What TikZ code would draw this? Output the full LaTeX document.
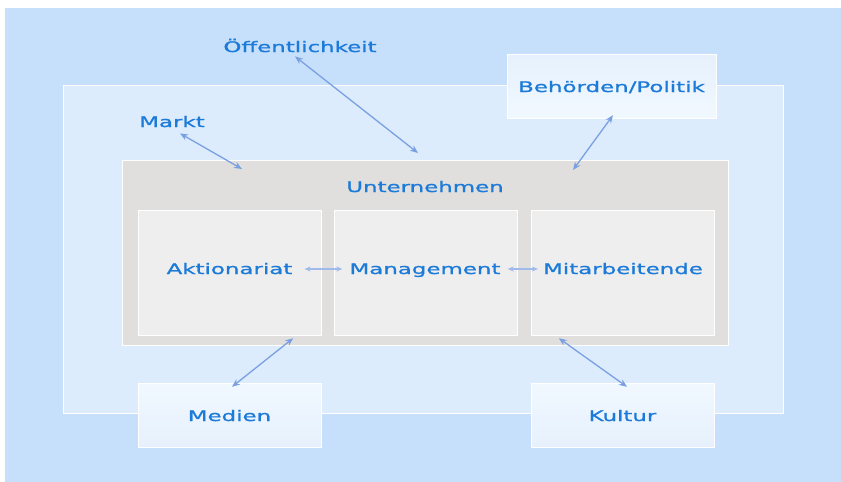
\documentclass[tikz,border=0pt]{standalone}
\usepackage{fontspec}
\usetikzlibrary{arrows.meta}
\newfontfamily\lab[FakeStretch=1.58,FakeBold=1.2]{DejaVu Sans}
\definecolor{bgblue}{RGB}{198,224,252}
\definecolor{outerblue}{RGB}{220,236,252}
\definecolor{untgray}{RGB}{224,223,221}
\definecolor{boxgray}{RGB}{238,238,238}
\definecolor{txtblue}{RGB}{28,122,216}
\definecolor{arrblue}{RGB}{122,160,226}
\definecolor{arrlight}{RGB}{160,186,236}
\definecolor{paleA}{RGB}{241,248,255}
\definecolor{paleB}{RGB}{230,241,253}
\begin{document}
\begin{tikzpicture}[x=1pt,y=-1pt,
  frame/.style={draw=white,line width=1pt,inner sep=0pt,outer sep=0pt},
  lbl/.style={text=txtblue,font=\lab\fontsize{14.5}{16}\selectfont,inner sep=0pt,anchor=base},
  arr/.style={draw=arrblue,line width=1.3pt,{Stealth[length=8pt,width=6.5pt]}-{Stealth[length=8pt,width=6.5pt]}},
  arrL/.style={draw=arrlight,line width=1.1pt,{Stealth[length=6pt,width=5pt]}-{Stealth[length=6pt,width=5pt]}},
  pale/.style={frame,top color=paleA,bottom color=paleB},
  paleU/.style={frame,top color=paleB,bottom color=paleA}]
\useasboundingbox (0,0) rectangle (841,482);
\fill[white] (0,0) rectangle (841,482);
% background
\fill[bgblue] (5,8) rectangle (841,482);
% outer environment
\path[frame,fill=outerblue] (63,85) rectangle (783,413);
% Unternehmen box
\path[frame,fill=untgray] (122,160) rectangle (728,345);
\node[frame,minimum width=606pt,minimum height=185pt,anchor=north west] (unt) at (122,160) {};
% inner boxes
\path[frame,fill=boxgray] (138,210) rectangle (321,335);
\path[frame,fill=boxgray] (334,210) rectangle (517,335);
\path[frame,fill=boxgray] (531,210) rectangle (714,335);
\node[minimum width=183pt,minimum height=125pt,inner sep=0pt] (akt) at (229.5,272.5) {};
\node[minimum width=183pt,minimum height=125pt,inner sep=0pt] (man) at (425.5,272.5) {};
\node[minimum width=183pt,minimum height=125pt,inner sep=0pt] (mit) at (622.5,272.5) {};
% outside boxes
\path[paleU] (507,54) rectangle (716,118);
\node[minimum width=209pt,minimum height=64pt,inner sep=0pt] (beh) at (611.5,86) {};
\path[pale] (138,383) rectangle (321,447);
\node[minimum width=183pt,minimum height=64pt,inner sep=0pt] (med) at (229.5,415) {};
\path[pale] (531,383) rectangle (714,447);
\node[minimum width=183pt,minimum height=64pt,inner sep=0pt] (kul) at (622.5,415) {};
% labels
\node[lbl] (untT) at (425,192) {Unternehmen};
\node[lbl] (aktT) at (229.5,274) {Aktionariat};
\node[lbl] (manT) at (425,274) {Management};
\node[lbl] (mitT) at (623,274) {Mitarbeitende};
\node[lbl] (behT) at (611.5,92) {Behörden/Politik};
\node[lbl] (medT) at (229.5,421) {Medien};
\node[lbl] (kulT) at (622.5,421) {Kultur};
\node[lbl] (oe) at (300,52) {Öffentlichkeit};
\node[lbl] (markt) at (172,127) {Markt};
% arrows
\draw[arr] ([shift={(-5,4)}]oe.south) -- ([shift={(296,-7)}]unt.north west);
\draw[arr] ([shift={(8,6)}]markt.south) -- ([shift={(120,9)}]unt.north west);
\draw[arr] ([shift={(1.5,-3)}]beh.south) -- ([shift={(451,10)}]unt.north west);
\draw[arr] ([shift={(2.5,4)}]med.north) -- ([shift={(-28,3)}]akt.south east);
\draw[arr] ([shift={(4.5,4)}]kul.north) -- ([shift={(28,3)}]mit.south west);
\draw[arrL] ([shift={(12,-5)}]aktT.base east) -- ([shift={(-7,-5)}]manT.base west);
\draw[arrL] ([shift={(7,-5)}]manT.base east) -- ([shift={(-5,-5)}]mitT.base west);
\end{tikzpicture}
\end{document}
